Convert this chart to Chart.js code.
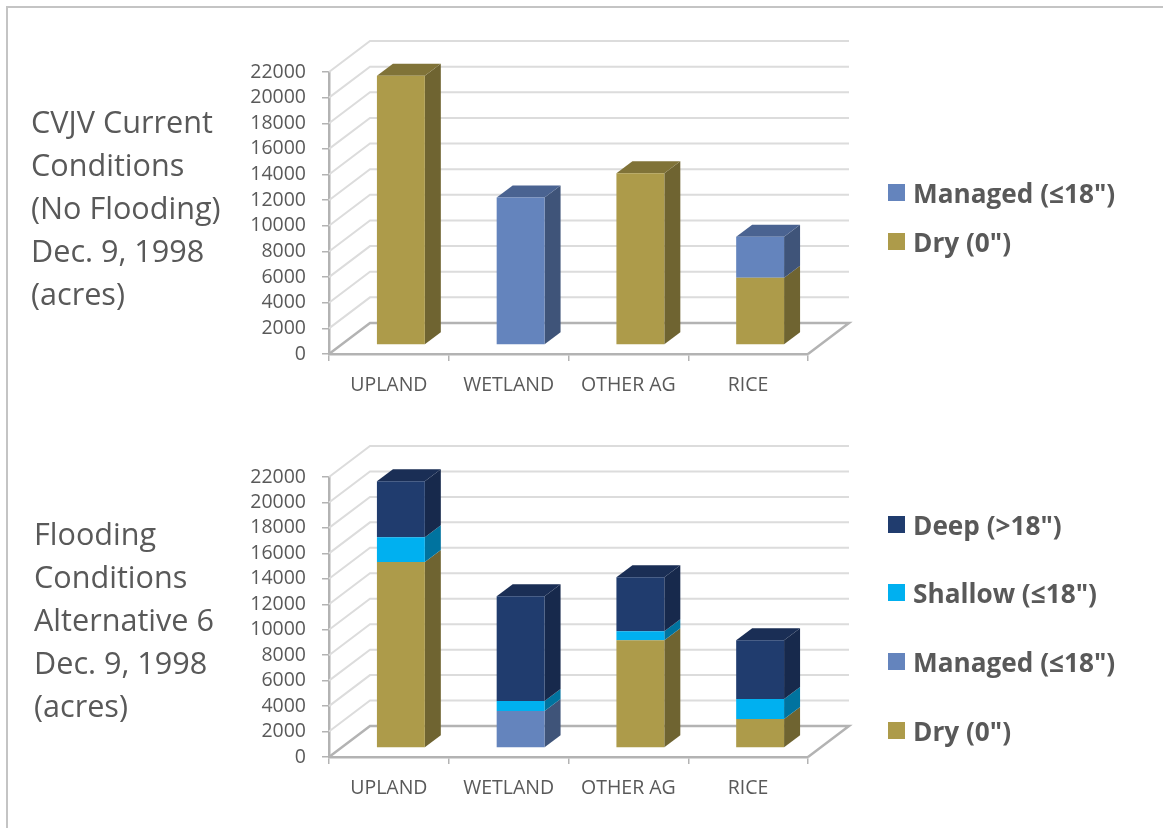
<!DOCTYPE html>
<html>
<head>
<meta charset="utf-8">
<script src="https://cdn.jsdelivr.net/npm/chart.js@4/dist/chart.umd.js"></script>
<style>
html,body{margin:0;padding:0;background:#fff;width:1163px;height:828px;overflow:hidden;font-family:"Open Sans",sans-serif;color:#595959}
#frame{position:absolute;left:6px;top:6px;width:1157px;height:822px;border-left:2px solid #c4c4c4;border-top:2px solid #c4c4c4;box-sizing:border-box}
canvas{position:absolute;left:0}
.title{position:absolute;font-size:30.6px;line-height:43px;white-space:nowrap}
.leg{position:absolute;font-size:26.2px;font-weight:700;line-height:34px;white-space:nowrap}
.leg i{position:absolute;left:-25px;top:8px;width:17px;height:17px}
</style>
</head>
<body>
<div id="frame"></div>
<canvas id="c1" width="1163" height="410" style="top:0"></canvas>
<canvas id="c2" width="1163" height="418" style="top:410px"></canvas>
<div class="title" style="left:31px;top:100px">CVJV Current<br>Conditions<br>(No Flooding)<br>Dec. 9, 1998<br>(acres)</div>
<div class="title" style="left:34px;top:512px">Flooding<br>Conditions<br>Alternative 6<br>Dec. 9, 1998<br>(acres)</div>
<div id="legends"></div>
<script>
const categories = ["UPLAND", "WETLAND", "OTHER AG", "RICE"];
const yTicksMax = 22000;
const yTickStep = 2000;

const current_dry     = [21000, 0, 13400, 5250];
const current_managed = [0, 11500, 0, 3200];

const alt6_dry     = [14620, 0, 8470, 2280];
const alt6_managed = [0, 2910, 0, 0];
const alt6_shallow = [1940, 780, 710, 1570];
const alt6_deep    = [4400, 8240, 4230, 4620];

const labelDry = 'Dry (0")';
const labelManaged = 'Managed (≤18")';
const labelShallow = 'Shallow (≤18")';
const labelDeep = 'Deep (>18")';

const colorDry = ["#ad9b4a", "#6f6431", "#807338"];
const colorManaged = ["#6484bd", "#3f5479", "#4a6391"];
const colorShallow = ["#00b0f0", "#00739f", "#00739f"];
const colorDeep = ["#203c6e", "#17294c", "#1a2e55"];

const DEPTH_X = 41, DEPTH_Y = 31, BAR_X = 16, BAR_Y = 12, SHIFT_X = 12, SHIFT_Y = 9;

const threeD = {
  id: "threeD",
  beforeDatasetsDraw(chart) {
    const ctx = chart.ctx, a = chart.chartArea, ys = chart.scales.y;
    ctx.save();
    ctx.lineWidth = 2;
    ctx.strokeStyle = "#dcdcdc";
    ys.ticks.forEach(t => {
      if (t.value === 0) return;
      const y = ys.getPixelForValue(t.value);
      ctx.beginPath();
      ctx.moveTo(a.left, y);
      ctx.lineTo(a.left + DEPTH_X, y - DEPTH_Y);
      ctx.lineTo(a.right + DEPTH_X, y - DEPTH_Y);
      ctx.stroke();
    });
    const b = ys.getPixelForValue(0);
    ctx.lineWidth = 2.5;
    ctx.strokeStyle = "#b3b3b3";
    ctx.beginPath();
    ctx.moveTo(a.left, b);
    ctx.lineTo(a.left + DEPTH_X, b - DEPTH_Y);
    ctx.lineTo(a.right + DEPTH_X, b - DEPTH_Y);
    ctx.lineTo(a.right, b);
    ctx.stroke();
    ctx.translate(SHIFT_X, -SHIFT_Y);
    const n = chart.data.labels.length;
    for (let j = 0; j < n; j++) {
      let top = null;
      chart.data.datasets.forEach((ds, i) => {
        const el = chart.getDatasetMeta(i).data[j];
        if (Math.abs(el.base - el.y) < 0.5) return;
        const r = el.x + el.width / 2;
        ctx.fillStyle = ds.sideColor;
        ctx.beginPath();
        ctx.moveTo(r, el.y);
        ctx.lineTo(r + BAR_X, el.y - BAR_Y);
        ctx.lineTo(r + BAR_X, el.base - BAR_Y);
        ctx.lineTo(r, el.base);
        ctx.closePath();
        ctx.fill();
        top = { el, color: ds.topColor };
      });
      if (top) {
        const l = top.el.x - top.el.width / 2, r = top.el.x + top.el.width / 2, y = top.el.y;
        ctx.fillStyle = top.color;
        ctx.beginPath();
        ctx.moveTo(l, y);
        ctx.lineTo(l + BAR_X, y - BAR_Y);
        ctx.lineTo(r + BAR_X, y - BAR_Y);
        ctx.lineTo(r, y);
        ctx.closePath();
        ctx.fill();
      }
    }
  },
  afterDatasetsDraw(chart) {
    chart.ctx.restore();
  }
};

function series(label, data, colors) {
  return {
    label, data,
    backgroundColor: colors[0],
    sideColor: colors[1],
    topColor: colors[2],
    borderWidth: 0,
    barPercentage: 0.4,
    categoryPercentage: 1,
    clip: false
  };
}

function makeChart(id, datasets, top, bottom, height) {
  return new Chart(document.getElementById(id), {
    type: "bar",
    data: { labels: categories, datasets },
    plugins: [threeD],
    options: {
      responsive: false,
      animation: false,
      layout: { padding: { left: 229, right: 355, top, bottom: height - bottom - 40 } },
      plugins: { legend: { display: false }, tooltip: { enabled: false } },
      scales: {
        x: {
          stacked: true,
          afterFit: s => { s.height = 40; },
          border: { display: true, color: "#b3b3b3", width: 2.5 },
          grid: { drawOnChartArea: false, drawTicks: true, tickLength: 7, color: "#b3b3b3", lineWidth: 1.5 },
          ticks: { color: "#595959", font: { family: "Open Sans", size: 19.5 }, padding: 13, maxRotation: 0, autoSkip: false }
        },
        y: {
          stacked: true,
          min: 0,
          max: yTicksMax,
          afterFit: s => { s.width = 100; },
          border: { display: true, color: "#b3b3b3", width: 2.5 },
          grid: { drawOnChartArea: false, drawTicks: true, tickLength: 7, color: "#b3b3b3", lineWidth: 1.5 },
          ticks: { stepSize: yTickStep, color: "#595959", font: { family: "Open Sans", size: 19.5 }, padding: 16, autoSkip: false, callback: v => String(v) }
        }
      }
    }
  });
}

const set1 = [series(labelDry, current_dry, colorDry), series(labelManaged, current_managed, colorManaged)];
const set2 = [series(labelDry, alt6_dry, colorDry), series(labelManaged, alt6_managed, colorManaged),
              series(labelShallow, alt6_shallow, colorShallow), series(labelDeep, alt6_deep, colorDeep)];

makeChart("c1", set1, 72, 354, 410);
makeChart("c2", set2, 67, 347, 418);

function legend(sets, ys) {
  const host = document.getElementById("legends");
  sets.slice().reverse().forEach((ds, i) => {
    const d = document.createElement("div");
    d.className = "leg";
    d.style.left = "913px";
    d.style.top = ys[i] + "px";
    d.textContent = ds.label;
    const sw = document.createElement("i");
    sw.style.background = ds.backgroundColor;
    d.appendChild(sw);
    host.appendChild(d);
  });
}
legend(set1, [176, 225]);
legend(set2, [508, 576, 645, 714]);
</script>
</body>
</html>
